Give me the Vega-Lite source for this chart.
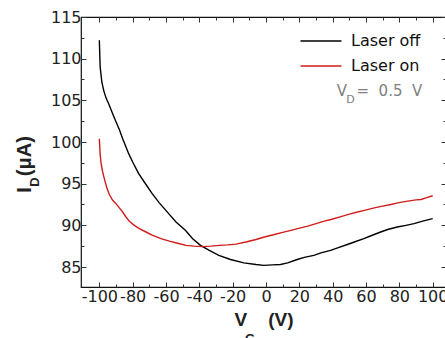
{
  "$schema": "https://vega.github.io/schema/vega-lite/v6.json",
  "width": 365,
  "height": 270,
  "autosize": "none",
  "padding": {"left": 81, "top": 17, "right": 0, "bottom": 51},
  "background": "white",
  "config": {
    "view": {"stroke": "#111", "strokeWidth": 1.2},
    "font": "DejaVu Sans"
  },
  "datasets": {
    "curves": [
      {"vg": -100, "id": 112.2, "series": "Laser off"},
      {"vg": -99.5, "id": 109.0, "series": "Laser off"},
      {"vg": -98.5, "id": 107.2, "series": "Laser off"},
      {"vg": -97.4, "id": 106.2, "series": "Laser off"},
      {"vg": -96, "id": 105.3, "series": "Laser off"},
      {"vg": -94.4, "id": 104.6, "series": "Laser off"},
      {"vg": -92, "id": 103.4, "series": "Laser off"},
      {"vg": -90.4, "id": 102.6, "series": "Laser off"},
      {"vg": -88, "id": 101.5, "series": "Laser off"},
      {"vg": -86, "id": 100.4, "series": "Laser off"},
      {"vg": -84, "id": 99.4, "series": "Laser off"},
      {"vg": -82.4, "id": 98.6, "series": "Laser off"},
      {"vg": -80, "id": 97.6, "series": "Laser off"},
      {"vg": -76.4, "id": 96.2, "series": "Laser off"},
      {"vg": -72, "id": 94.9, "series": "Laser off"},
      {"vg": -68.3, "id": 93.8, "series": "Laser off"},
      {"vg": -64, "id": 92.7, "series": "Laser off"},
      {"vg": -58.4, "id": 91.4, "series": "Laser off"},
      {"vg": -54, "id": 90.4, "series": "Laser off"},
      {"vg": -48.4, "id": 89.4, "series": "Laser off"},
      {"vg": -44, "id": 88.4, "series": "Laser off"},
      {"vg": -39.3, "id": 87.6, "series": "Laser off"},
      {"vg": -34, "id": 87.0, "series": "Laser off"},
      {"vg": -28.3, "id": 86.4, "series": "Laser off"},
      {"vg": -21.3, "id": 85.9, "series": "Laser off"},
      {"vg": -13.3, "id": 85.5, "series": "Laser off"},
      {"vg": -6, "id": 85.3, "series": "Laser off"},
      {"vg": -1.3, "id": 85.2, "series": "Laser off"},
      {"vg": 4, "id": 85.25, "series": "Laser off"},
      {"vg": 8.7, "id": 85.3, "series": "Laser off"},
      {"vg": 13, "id": 85.5, "series": "Laser off"},
      {"vg": 18.7, "id": 85.9, "series": "Laser off"},
      {"vg": 23, "id": 86.15, "series": "Laser off"},
      {"vg": 28.7, "id": 86.4, "series": "Laser off"},
      {"vg": 33, "id": 86.7, "series": "Laser off"},
      {"vg": 38.7, "id": 87.0, "series": "Laser off"},
      {"vg": 43, "id": 87.3, "series": "Laser off"},
      {"vg": 48.8, "id": 87.7, "series": "Laser off"},
      {"vg": 53, "id": 88.0, "series": "Laser off"},
      {"vg": 58.7, "id": 88.4, "series": "Laser off"},
      {"vg": 63, "id": 88.75, "series": "Laser off"},
      {"vg": 68.8, "id": 89.2, "series": "Laser off"},
      {"vg": 73, "id": 89.5, "series": "Laser off"},
      {"vg": 78.8, "id": 89.8, "series": "Laser off"},
      {"vg": 84, "id": 90.0, "series": "Laser off"},
      {"vg": 88.8, "id": 90.2, "series": "Laser off"},
      {"vg": 94, "id": 90.5, "series": "Laser off"},
      {"vg": 100, "id": 90.8, "series": "Laser off"},
      {"vg": -100, "id": 100.4, "series": "Laser on"},
      {"vg": -99.5, "id": 98.5, "series": "Laser on"},
      {"vg": -99, "id": 97.5, "series": "Laser on"},
      {"vg": -98, "id": 96.4, "series": "Laser on"},
      {"vg": -97, "id": 95.6, "series": "Laser on"},
      {"vg": -95.5, "id": 94.5, "series": "Laser on"},
      {"vg": -94, "id": 93.7, "series": "Laser on"},
      {"vg": -92, "id": 93.0, "series": "Laser on"},
      {"vg": -90, "id": 92.6, "series": "Laser on"},
      {"vg": -88, "id": 92.1, "series": "Laser on"},
      {"vg": -86, "id": 91.6, "series": "Laser on"},
      {"vg": -84, "id": 91.0, "series": "Laser on"},
      {"vg": -82, "id": 90.5, "series": "Laser on"},
      {"vg": -79, "id": 90.0, "series": "Laser on"},
      {"vg": -76, "id": 89.6, "series": "Laser on"},
      {"vg": -72, "id": 89.2, "series": "Laser on"},
      {"vg": -68, "id": 88.8, "series": "Laser on"},
      {"vg": -63, "id": 88.4, "series": "Laser on"},
      {"vg": -58, "id": 88.1, "series": "Laser on"},
      {"vg": -53, "id": 87.85, "series": "Laser on"},
      {"vg": -48, "id": 87.6, "series": "Laser on"},
      {"vg": -43, "id": 87.5, "series": "Laser on"},
      {"vg": -38, "id": 87.45, "series": "Laser on"},
      {"vg": -33, "id": 87.5, "series": "Laser on"},
      {"vg": -28, "id": 87.6, "series": "Laser on"},
      {"vg": -23, "id": 87.65, "series": "Laser on"},
      {"vg": -18, "id": 87.75, "series": "Laser on"},
      {"vg": -12, "id": 88.0, "series": "Laser on"},
      {"vg": -6, "id": 88.3, "series": "Laser on"},
      {"vg": -1, "id": 88.6, "series": "Laser on"},
      {"vg": 5, "id": 88.9, "series": "Laser on"},
      {"vg": 10, "id": 89.15, "series": "Laser on"},
      {"vg": 15, "id": 89.4, "series": "Laser on"},
      {"vg": 19, "id": 89.6, "series": "Laser on"},
      {"vg": 25, "id": 89.9, "series": "Laser on"},
      {"vg": 30, "id": 90.2, "series": "Laser on"},
      {"vg": 35, "id": 90.5, "series": "Laser on"},
      {"vg": 39, "id": 90.7, "series": "Laser on"},
      {"vg": 45, "id": 91.05, "series": "Laser on"},
      {"vg": 50, "id": 91.35, "series": "Laser on"},
      {"vg": 55, "id": 91.6, "series": "Laser on"},
      {"vg": 59, "id": 91.8, "series": "Laser on"},
      {"vg": 65, "id": 92.1, "series": "Laser on"},
      {"vg": 70, "id": 92.3, "series": "Laser on"},
      {"vg": 75, "id": 92.5, "series": "Laser on"},
      {"vg": 79, "id": 92.7, "series": "Laser on"},
      {"vg": 85, "id": 92.9, "series": "Laser on"},
      {"vg": 90, "id": 93.05, "series": "Laser on"},
      {"vg": 93, "id": 93.1, "series": "Laser on"},
      {"vg": 96, "id": 93.3, "series": "Laser on"},
      {"vg": 100, "id": 93.55, "series": "Laser on"}
    ]
  },
  "layer": [
    {
      "data": {"name": "curves"},
      "mark": {"type": "line", "strokeWidth": 1.4},
      "encoding": {
        "x": {
          "field": "vg", "type": "quantitative",
          "scale": {"domain": [-111, 108], "nice": false, "zero": false},
          "axis": {
            "orient": "bottom",
            "values": [-100, -90, -80, -70, -60, -50, -40, -30, -20, -10, 0, 10, 20, 30, 40, 50, 60, 70, 80, 90, 100],
            "labelExpr": "datum.value % 20 === 0 ? '' + datum.value : ''",
            "tickSize": -5,
            "tickDash": {"condition": {"test": "datum.value % 20 === 0", "value": [5, 0]}, "value": [3, 20]},
            "tickColor": "#333",
            "grid": false,
            "domain": false,
            "labelOverlap": false,
            "labelFlush": false,
            "labelFont": "DejaVu Sans",
            "labelFontSize": 16,
            "labelColor": "#222",
            "labelPadding": 6,
            "title": "V\u00a0\u00a0\u00a0\u00a0(V)",
            "titleFont": "Liberation Sans",
            "titleFontSize": 19,
            "titleFontWeight": "bold",
            "titleColor": "#222",
            "titleX": 182.5,
            "titleY": 38,
            "titleBaseline": "alphabetic"
          }
        },
        "y": {
          "field": "id", "type": "quantitative",
          "scale": {"domain": [82.6, 115], "nice": false, "zero": false},
          "axis": {
            "orient": "left",
            "values": [85, 87.5, 90, 92.5, 95, 97.5, 100, 102.5, 105, 107.5, 110, 112.5, 115],
            "labelExpr": "datum.value % 5 === 0 ? '' + datum.value : ''",
            "tickSize": -5,
            "tickDash": {"condition": {"test": "datum.value % 5 === 0", "value": [5, 0]}, "value": [3, 20]},
            "tickColor": "#333",
            "grid": false,
            "domain": false,
            "labelOverlap": false,
            "labelFlush": false,
            "labelFont": "DejaVu Sans",
            "labelFontSize": 16,
            "labelColor": "#222",
            "labelPadding": 5,
            "title": "I\u00a0\u00a0(μA)",
            "titleFont": "Liberation Sans",
            "titleFontSize": 20,
            "titleFontWeight": "bold",
            "titleColor": "#222",
            "titleAngle": -90,
            "titleX": -51,
            "titleY": 147,
            "titleBaseline": "alphabetic",
            "titleAlign": "center"
          }
        },
        "color": {
          "field": "series", "type": "nominal",
          "scale": {"domain": ["Laser off", "Laser on"], "range": ["#000000", "#d01c1c"]},
          "legend": {
            "title": null,
            "orient": "none",
            "legendX": 232,
            "legendY": 16,
            "padding": 0,
            "symbolType": "M-4,0H4",
            "symbolSize": 105,
            "symbolStrokeWidth": 1.5,
            "labelOffset": 22,
            "labelFont": "DejaVu Sans",
            "labelFontSize": 16,
            "labelColor": "#111",
            "rowPadding": 9
          }
        }
      }
    },
    {
      "data": {"name": "curves"},
      "mark": {"type": "line", "opacity": 0},
      "encoding": {
        "x": {
          "field": "vg", "type": "quantitative",
          "axis": {
            "orient": "top",
            "values": [-100, -90, -80, -70, -60, -50, -40, -30, -20, -10, 0, 10, 20, 30, 40, 50, 60, 70, 80, 90, 100],
            "labels": false,
            "tickSize": -5,
            "tickDash": {"condition": {"test": "datum.value % 20 === 0", "value": [5, 0]}, "value": [3, 20]},
            "tickColor": "#333",
            "grid": false,
            "domain": false,
            "title": null
          }
        },
        "y": {
          "field": "id", "type": "quantitative",
          "axis": {
            "orient": "right",
            "values": [85, 87.5, 90, 92.5, 95, 97.5, 100, 102.5, 105, 107.5, 110, 112.5, 115],
            "labels": false,
            "tickSize": -5,
            "tickDash": {"condition": {"test": "datum.value % 5 === 0", "value": [5, 0]}, "value": [3, 20]},
            "tickColor": "#333",
            "grid": false,
            "domain": false,
            "title": null
          }
        }
      }
    },
    {
      "data": {"values": [{}]},
      "mark": {"type": "text", "font": "DejaVu Sans", "fontSize": 15, "color": "#808080", "align": "left", "baseline": "alphabetic"},
      "encoding": {
        "x": {"datum": 42.4, "type": "quantitative", "axis": null},
        "y": {"datum": 105.5, "type": "quantitative", "axis": null},
        "text": {"value": "V"}
      }
    },
    {
      "data": {"values": [{}]},
      "mark": {"type": "text", "font": "DejaVu Sans", "fontSize": 11, "color": "#808080", "align": "left", "baseline": "alphabetic"},
      "encoding": {
        "x": {"datum": 48.2, "type": "quantitative", "axis": null},
        "y": {"datum": 104.7, "type": "quantitative", "axis": null},
        "text": {"value": "D"}
      }
    },
    {
      "data": {"values": [{}]},
      "mark": {"type": "text", "font": "DejaVu Sans", "fontSize": 15, "color": "#808080", "align": "left", "baseline": "alphabetic"},
      "encoding": {
        "x": {"datum": 54.3, "type": "quantitative", "axis": null},
        "y": {"datum": 105.5, "type": "quantitative", "axis": null},
        "text": {"value": "=\u00a0\u00a00.5\u00a0\u00a0V"}
      }
    },
    {
      "data": {"values": [{}]},
      "mark": {"type": "text", "font": "Liberation Sans", "fontSize": 13, "fontWeight": "bold", "color": "#222", "align": "center", "baseline": "middle", "angle": 270},
      "encoding": {
        "x": {"datum": -138.6, "type": "quantitative", "axis": null},
        "y": {"datum": 95.2, "type": "quantitative", "axis": null},
        "text": {"value": "D"}
      }
    },
    {
      "data": {"values": [{}]},
      "mark": {"type": "text", "font": "Liberation Sans", "fontSize": 13, "fontWeight": "bold", "color": "#222", "align": "center", "baseline": "top"},
      "encoding": {
        "x": {"datum": -9.6, "type": "quantitative", "axis": null},
        "y": {"datum": 77.1, "type": "quantitative", "axis": null},
        "text": {"value": "G"}
      }
    }
  ],
  "resolve": {"axis": {"x": "independent", "y": "independent"}}
}
